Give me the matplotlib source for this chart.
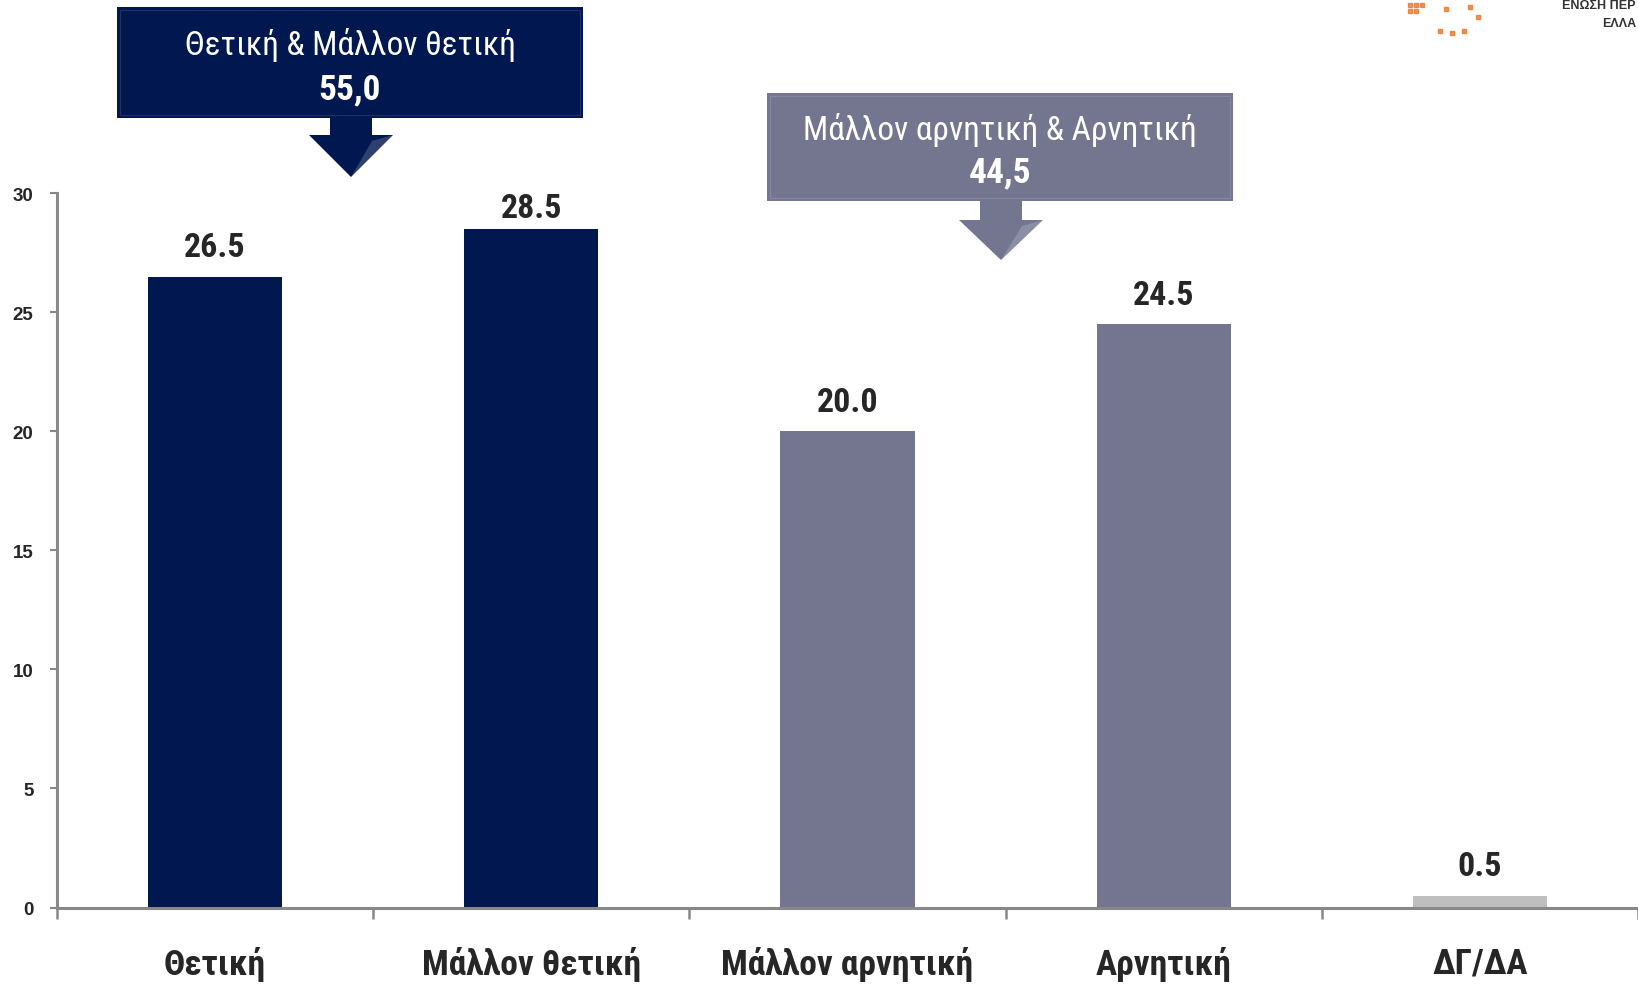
import matplotlib
matplotlib.use("Agg")
import matplotlib.pyplot as plt
from matplotlib import font_manager
from matplotlib.patches import Rectangle, Polygon

# ---- data ----
categories = ["Θετική", "Μάλλον θετική", "Μάλλον αρνητική", "Αρνητική", "ΔΓ/ΔΑ"]
values = [26.5, 28.5, 20.0, 24.5, 0.5]
colors = ["#00174F", "#00174F", "#747690", "#747690", "#BFBFBF"]
yticks = [0, 5, 10, 15, 20, 25, 30]
group_pos_label = "Θετική & Μάλλον θετική"
group_pos_value = "55,0"
group_neg_label = "Μάλλον αρνητική & Αρνητική"
group_neg_value = "44,5"

names = {f.name for f in font_manager.fontManager.ttflist}
NARROW = "Liberation Sans Narrow" if "Liberation Sans Narrow" in names else "Roboto Condensed" if "Roboto Condensed" in names else "Liberation Sans"
REG = "Liberation Sans"

W, H, DPI = 1638, 987, 100
fig = plt.figure(figsize=(W / DPI, H / DPI), dpi=DPI)
fig.patch.set_facecolor("white")

# axes position in pixels
x0, x_unit = 57.0, 317.4
y0_px, y30_px = 908.5, 194.3
ax = fig.add_axes([x0 / W, 1 - y0_px / H, (W - x0) / W, (y0_px - y30_px) / H])
x = list(range(len(categories)))
bars = ax.bar(x, values, width=0.424, color=colors, zorder=2)
ax.set_xlim(-0.5, -0.5 + (W - x0) / x_unit)
ax.set_ylim(0, 30)

spine_c = "#888888"
for s in ["top", "right"]:
    ax.spines[s].set_visible(False)
for s in ["left", "bottom"]:
    ax.spines[s].set_color(spine_c)
    ax.spines[s].set_linewidth(2.2)

ax.set_yticks(yticks)
ax.set_yticklabels([str(t) for t in yticks], fontsize=13.5, fontweight="bold",
                   family=REG, color="#262626")
ax.tick_params(axis="y", length=5, width=1.5, color=spine_c, pad=12, direction="out")
ax.set_xticks(x)
ax.set_xticklabels(categories, fontsize=25.5, fontweight="bold", family=NARROW, color="#262626")
ax.set_xticks([i + 0.5 for i in range(-1, len(categories))], minor=True)
ax.tick_params(axis="x", which="major", length=0, pad=28)
ax.tick_params(axis="x", which="minor", length=8, width=1.8, color=spine_c, direction="out")

# value labels
for xi, v in zip(x, values):
    if v + 2.2 > 30:
        ax.annotate(f"{v:.1f}", (xi, 30), xytext=(0, 1), textcoords="offset points",
                    ha="center", va="top", fontsize=24.5, fontweight="bold", family=NARROW,
                    color="#262626", zorder=3,
                    bbox=dict(boxstyle="square,pad=0.1", fc="white", ec="none"))
    else:
        ax.annotate(f"{v:.1f}", (xi, v), xytext=(0, 14.5), textcoords="offset points",
                    ha="center", va="baseline", fontsize=24.5, fontweight="bold",
                    family=NARROW, color="#262626", zorder=3)

# ---- overlay for callouts (pixel coordinates, top-left origin) ----
ov = fig.add_axes([0, 0, 1, 1], facecolor="none")
ov.set_xlim(0, W)
ov.set_ylim(H, 0)
ov.axis("off")


def callout(bx0, by0, bx1, by1, cx, stem_w, stem_bot, head_w, tip, fc, line1, line2, ty1, ty2):
    ov.add_patch(Rectangle((bx0, by0), bx1 - bx0, by1 - by0, fc=fc, ec="none"))
    # subtle bevel edge
    ov.add_patch(Rectangle((bx0 + 3, by0 + 3), bx1 - bx0 - 6, by1 - by0 - 6, fc="none",
                           ec="white", lw=0.8, alpha=0.12))
    ov.add_patch(Polygon([(cx - stem_w / 2, by1 - 1), (cx + stem_w / 2, by1 - 1),
                          (cx + stem_w / 2, stem_bot), (cx + head_w / 2, stem_bot),
                          (cx, tip), (cx - head_w / 2, stem_bot),
                          (cx - stem_w / 2, stem_bot)], closed=True, fc=fc, ec="none"))
    ov.add_patch(Polygon([(cx, tip), (cx + head_w / 2, stem_bot), (cx + head_w / 4, stem_bot + 6)],
                         closed=True, fc="white", ec="none", alpha=0.18))
    ov.text((bx0 + bx1) / 2, ty1, line1, ha="center", va="center", fontsize=24,
            family=NARROW, color="white")
    ov.text((bx0 + bx1) / 2, ty2, line2, ha="center", va="center", fontsize=25.5,
            fontweight="bold", family=NARROW, color="white")


callout(117, 8, 583, 119, 351, 42, 136, 84, 178, "#00174F",
        group_pos_label, group_pos_value, 45, 90)
callout(767, 94, 1233, 202, 1001, 42, 221, 84, 261, "#747690",
        group_neg_label, group_neg_value, 130, 173)

# partial logo at top-right corner
ov.text(1636, 6, "ΕΝΩΣΗ ΠΕΡ", ha="right", va="center", fontsize=9,
        fontweight="bold", family=REG, color="#333333")
ov.text(1636, 24, "ΕΛΛΑ", ha="right", va="center", fontsize=9,
        fontweight="bold", family=REG, color="#333333")
ov.scatter([1410, 1416, 1422, 1410, 1416, 1440, 1452, 1464, 1478, 1446, 1470],
           [6, 6, 6, 12, 12, 32, 34, 32, 18, 10, 8], s=10, marker="s",
           color="#E8782A", alpha=0.8, clip_on=True)

fig.savefig("out.png", dpi=DPI)
